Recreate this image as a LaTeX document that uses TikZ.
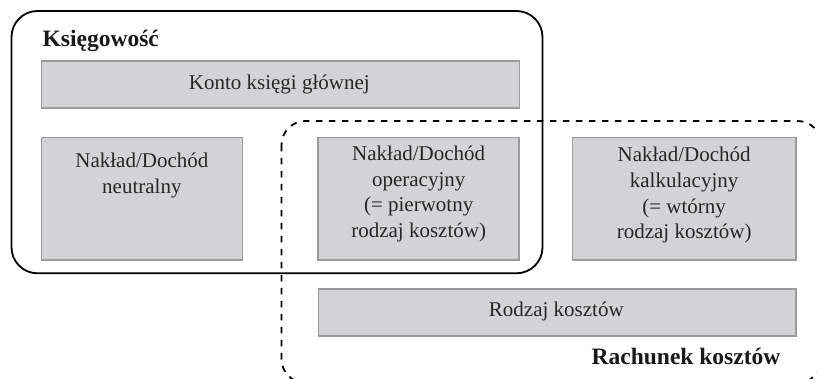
\documentclass[tikz,border=0pt]{standalone}
\usepackage{fontspec}
\setmainfont{Liberation Serif}
\begin{document}
\begin{tikzpicture}[x=1pt,y=-1pt,
  graybox/.style={draw=boxedge, fill=boxfill, line width=1.8pt, inner sep=0pt},
  txt/.style={inner sep=0pt, align=center, font=\fontsize{21}{25.7}\selectfont, text=black!85},
  title/.style={font=\fontsize{23.5}{27}\selectfont\bfseries, inner sep=0pt, text=black!90}]
\definecolor{boxfill}{HTML}{D2D3D5}
\definecolor{boxedge}{HTML}{9A9B9D}
\useasboundingbox (0,0) rectangle (817,379);
\clip (0,0) rectangle (817,379);
% solid frame
\draw[line width=1.8pt, rounded corners=26pt] (11.5,11) rectangle (542.5,273.3);
% dashed frame
\draw[line width=1.8pt, dash pattern=on 6.5pt off 6.5pt, rounded corners=24pt] (281.5,121) rectangle (821.5,383);
% boxes
\node[graybox, minimum width=478pt, minimum height=47pt, anchor=north west] (konto) at (40.5,60.5) {};
\node[graybox, minimum width=201pt, minimum height=122.5pt, anchor=north west] (neut) at (40.5,136.7) {};
\node[graybox, minimum width=201pt, minimum height=122.5pt, anchor=north west] (oper) at (317.3,136.7) {};
\node[graybox, minimum width=223.5pt, minimum height=122.5pt, anchor=north west] (kalk) at (571.5,136.7) {};
\node[graybox, minimum width=477.5pt, minimum height=47pt, anchor=north west] (rodz) at (317.5,288) {};
% texts
\node[txt, anchor=base] (kontot) at (279.3,90) {Konto księgi głównej};
\node[txt, anchor=north] (neutt) at (neut.north) {\rule{0pt}{31pt}Nakład/Dochód\\neutralny};
\node[txt, anchor=north] (opert) at (oper.north) {\rule{0pt}{23.5pt}Nakład/Dochód\\operacyjny\\(= pierwotny\\rodzaj kosztów)};
\node[txt, anchor=north] (kalkt) at (kalk.north) {\rule{0pt}{25pt}Nakład/Dochód\\kalkulacyjny\\(= wtórny\\rodzaj kosztów)};
\node[txt, anchor=base] (rodzt) at (556.3,317) {Rodzaj kosztów};
% titles
\node[title, anchor=base west] (ksieg) at (42.5,47) {Księgowość};
\node[title, anchor=base west] (rach) at (591.5,365) {Rachunek kosztów};
\end{tikzpicture}
\end{document}
